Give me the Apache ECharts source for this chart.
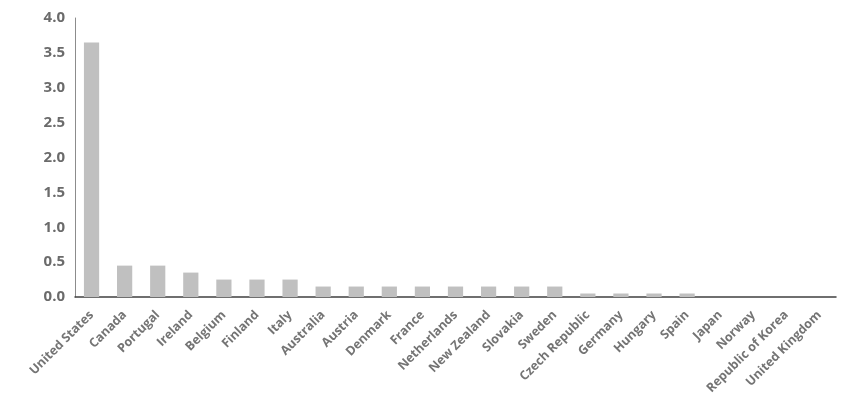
<!DOCTYPE html>
<html>
<head>
<meta charset="utf-8">
<script src="https://cdn.jsdelivr.net/npm/echarts@6/dist/echarts.min.js"></script>
<style>
  html, body { margin: 0; padding: 0; background: #fff; }
  #main { width: 851px; height: 407px; }
</style>
</head>
<body>
<div id="main"></div>
<script>
var countries = ['United States', 'Canada', 'Portugal', 'Ireland', 'Belgium', 'Finland', 'Italy',
    'Australia', 'Austria', 'Denmark', 'France', 'Netherlands', 'New Zealand', 'Slovakia', 'Sweden',
    'Czech Republic', 'Germany', 'Hungary', 'Spain', 'Japan', 'Norway', 'Republic of Korea', 'United Kingdom'];
var values = [3.65, 0.45, 0.45, 0.35, 0.25, 0.25, 0.25,
    0.15, 0.15, 0.15, 0.15, 0.15, 0.15, 0.15, 0.15,
    0.05, 0.05, 0.05, 0.05, 0, 0, 0, 0];
var yTicks = [0, 4, 0.5];

var myChart = echarts.init(document.getElementById('main'));

var option = {
    backgroundColor: '#ffffff',
    animation: false,
    grid: {
        left: 75,
        right: 15,
        top: 18,
        bottom: 110
    },
    xAxis: {
        type: 'category',
        data: countries,
        axisLine: { lineStyle: { color: '#404040', width: 1.5 } },
        axisTick: { show: false },
        axisLabel: {
            rotate: 45,
            interval: 0,
            color: '#747474',
            fontFamily: 'Open Sans',
            fontWeight: 'bold',
            fontSize: 12.5,
            margin: 16
        }
    },
    yAxis: {
        type: 'value',
        min: yTicks[0],
        max: yTicks[1],
        interval: yTicks[2],
        splitLine: { show: false },
        axisLine: { show: true, lineStyle: { color: '#8c8c8c', width: 1 } },
        axisTick: { show: false },
        axisLabel: {
            color: '#6b6b6b',
            fontFamily: 'Open Sans',
            fontWeight: 'bold',
            fontSize: 15,
            margin: 10,
            formatter: function (v) { return v.toFixed(1); }
        }
    },
    series: [{
        type: 'bar',
        data: values,
        barWidth: '46%',
        itemStyle: { color: '#c0c0c0' }
    }]
};

myChart.setOption(option);
</script>
</body>
</html>
